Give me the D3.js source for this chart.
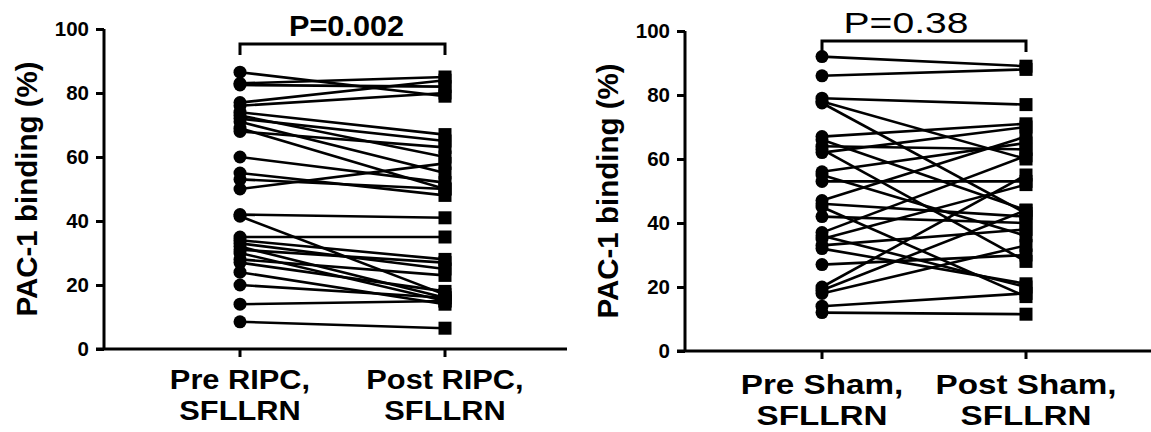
<!DOCTYPE html>
<html>
<head>
<meta charset="utf-8">
<script src="https://cdn.jsdelivr.net/npm/d3@7"></script>
<style>
  html, body { margin: 0; padding: 0; background: #fff; }
  svg { display: block; font-family: "Liberation Sans", Arial, sans-serif; }
</style>
</head>
<body>
<svg id="chart" width="1151" height="432"></svg>
<script>
// Paired PAC-1 binding measurements (%), one entry per subject
const ripcCategories = [["Pre RIPC,", "SFLLRN"], ["Post RIPC,", "SFLLRN"]];
const ripcPre  = [86.5, 83, 82.5, 77, 76, 74, 73, 72, 71, 69, 68, 60, 55, 53, 50, 42, 41.5, 35, 34, 33, 32, 31, 30, 28, 27, 24, 20, 14, 8.5];
const ripcPost = [79, 85, 82, 84, 80, 67, 60, 65, 55, 50, 63, 52, 48, 50, 58, 41, 17, 35, 28, 25, 16, 27, 15, 23, 18, 14, 16, 15, 6.5];
const ripcPLabel = "P=0.002";

const shamCategories = [["Pre Sham,", "SFLLRN"], ["Post Sham,", "SFLLRN"]];
const shamPre  = [92, 86, 79, 78, 77.5, 67, 66, 64, 63, 62, 56, 55, 53, 47, 46, 45, 42, 37, 36, 35, 33, 32, 27, 20, 19, 18, 14, 12];
const shamPost = [89, 88, 77, 60, 43, 71, 44, 63, 28, 70, 65, 36, 53, 67, 42, 17, 40, 61, 20, 52, 38, 21, 30, 55, 44, 33, 18, 11.5];
const shamPLabel = "P=0.38";

const yTicks = [0, 20, 40, 60, 80, 100];
const yTitle = "PAC-1 binding (%)";

const svg = d3.select("#chart");

// Widen a text element horizontally by a factor
function stretch(sel, k) {
  if (k === 1) return;
  sel.each(function () {
    const w = this.getComputedTextLength();
    d3.select(this).attr("textLength", w * k).attr("lengthAdjust", "spacingAndGlyphs");
  });
}

function drawPanel(opt) {
  const g = svg.append("g");
  const y = d3.scaleLinear().domain([0, 100]).range([opt.y0, opt.y100]);
  const x = d3.scalePoint().domain([0, 1]).range([opt.xPre, opt.xPost]);

  // Y axis
  const yAxis = d3.axisLeft(y).tickValues(yTicks).tickSize(8).tickPadding(7);
  const ya = g.append("g").attr("transform", `translate(${opt.axisX},0)`).call(yAxis);
  ya.select(".domain").attr("stroke", "#000").attr("stroke-width", 3)
    .attr("d", `M0,${opt.y100}V${opt.y0}`);
  ya.selectAll(".tick line").attr("stroke", "#000").attr("stroke-width", 3);
  ya.selectAll(".tick text").attr("fill", "#000").style("font-size", "20.5px").style("font-weight", "bold");

  // X axis
  const xa = g.append("g").attr("transform", `translate(0,${opt.y0})`);
  xa.append("line").attr("x1", opt.axisX - 8).attr("x2", opt.axisEnd)
    .attr("stroke", "#000").attr("stroke-width", 3);
  xa.selectAll(".xt").data([0, 1]).enter().append("line")
    .attr("x1", d => x(d)).attr("x2", d => x(d)).attr("y1", 0).attr("y2", 8)
    .attr("stroke", "#000").attr("stroke-width", 3);

  // Category labels (two lines each)
  opt.categories.forEach((lines, i) => {
    lines.forEach((s, j) => {
      const t = g.append("text").attr("x", x(i)).attr("y", opt.labelY + j * 31)
        .attr("text-anchor", "middle").style("font-size", "27px").style("font-weight", "bold").text(s);
      stretch(t, opt.labelStretch);
    });
  });

  // Y title
  g.append("text")
    .attr("transform", `translate(${opt.titleX},${(opt.y0 + opt.y100) / 2}) rotate(-90)`)
    .attr("text-anchor", "middle").attr("dy", "0.35em")
    .style("font-size", "29.5px").style("font-weight", "bold").text(yTitle);

  // Paired lines
  const pairs = opt.pre.map((v, i) => ({ pre: v, post: opt.post[i] }));
  g.selectAll(".pair").data(pairs).enter().append("line")
    .attr("x1", x(0)).attr("x2", x(1))
    .attr("y1", d => y(d.pre)).attr("y2", d => y(d.post))
    .attr("stroke", "#000").attr("stroke-width", 2.6);

  // Markers: circles before, squares after
  g.selectAll(".pre").data(opt.pre).enter().append("circle")
    .attr("cx", x(0)).attr("cy", d => y(d)).attr("r", 6.5).attr("fill", "#000");
  const sq = 13;
  g.selectAll(".post").data(opt.post).enter().append("rect")
    .attr("x", x(1) - sq / 2).attr("y", d => y(d) - sq / 2)
    .attr("width", sq).attr("height", sq).attr("fill", "#000");

  // Significance bracket
  g.append("path")
    .attr("d", `M${x(0)},${opt.brY + 11}V${opt.brY}H${x(1)}V${opt.brY + 11}`)
    .attr("fill", "none").attr("stroke", "#000").attr("stroke-width", 3);
  g.append("text").attr("x", (x(0) + x(1)) / 2 + opt.pShift).attr("y", opt.brY - 8)
    .attr("text-anchor", "middle").style("font-size", opt.pFont + "px")
    .style("font-weight", opt.pWeight)
    .attr("textLength", opt.pWidth).attr("lengthAdjust", "spacingAndGlyphs")
    .text(opt.pLabel);
}

drawPanel({
  axisX: 104, axisEnd: 567, y0: 349, y100: 29, xPre: 240, xPost: 445,
  titleX: 27, labelY: 389, labelStretch: 1.14, brY: 44, pre: ripcPre, post: ripcPost,
  categories: ripcCategories, pLabel: ripcPLabel, pFont: 30, pWeight: "bold",
  pWidth: 115, pShift: 4
});

drawPanel({
  axisX: 685, axisEnd: 1151, y0: 351, y100: 31, xPre: 822, xPost: 1026,
  titleX: 608, labelY: 394, labelStretch: 1.23, brY: 41, pre: shamPre, post: shamPost,
  categories: shamCategories, pLabel: shamPLabel, pFont: 30, pWeight: "normal",
  pWidth: 125, pShift: -18
});
</script>
</body>
</html>
